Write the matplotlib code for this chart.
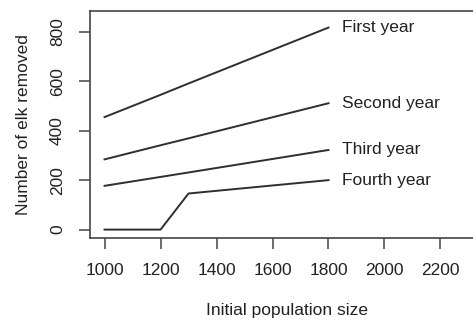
import matplotlib
matplotlib.use("Agg")
import matplotlib.pyplot as plt

plt.rcParams['font.family'] = ['Liberation Sans', 'DejaVu Sans']

# Number of elk removed by year of culling, versus initial population size
pop_size = [1000, 1200, 1300, 1800]
first_year = [455, 545, 591, 817]
second_year = [284, 341, 369, 511]
third_year = [177, 213, 231, 322]
fourth_year = [0, 0, 146, 200]

series_names = ["First year", "Second year", "Third year", "Fourth year"]
series = [first_year, second_year, third_year, fourth_year]

x_ticks = [1000, 1200, 1400, 1600, 1800, 2000, 2200]
y_ticks = [0, 200, 400, 600, 800]

line_color = "#2e2e2e"
fs = 12.5

fig = plt.figure(figsize=(4.73, 3.20), dpi=100)
ax = fig.add_axes([90 / 473, 82 / 320, (483 - 90) / 473, (238 - 11) / 320])

for name, vals in zip(series_names, series):
    ax.plot(pop_size, vals, color=line_color, lw=1.4)
    ax.text(1850, vals[-1], name, ha="left", va="center", fontsize=fs, color="#222222")

ax.set_xlim(948, 2352)
ax.set_ylim(-34, 884)
ax.set_xticks(x_ticks)
ax.set_yticks(y_ticks)
ax.set_yticklabels([str(v) for v in y_ticks], rotation=90, va="center")
ax.tick_params(axis="both", direction="out", length=8, width=1.1, color="#444444",
               labelsize=fs, labelcolor="#222222", pad=10)

for sp in ax.spines.values():
    sp.set_color("#444444")
    sp.set_linewidth(1.2)

ax.set_xlabel("Initial population size", fontsize=fs, color="#222222", labelpad=18)
ax.set_ylabel("Number of elk removed", fontsize=fs, color="#222222", labelpad=14)

fig.savefig("out.png", dpi=100)
